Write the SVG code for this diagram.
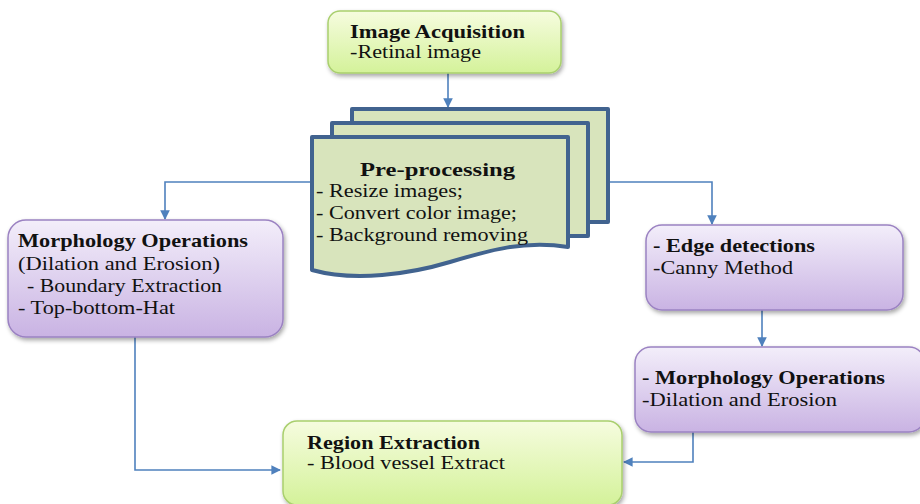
<svg xmlns="http://www.w3.org/2000/svg" width="920" height="504" viewBox="0 0 920 504">
<defs>
<linearGradient id="gGreen" x1="0" y1="0" x2="0" y2="1">
<stop offset="0" stop-color="#f6fcdf"/>
<stop offset="1" stop-color="#d4f29a"/>
</linearGradient>
<linearGradient id="gPurple" x1="0" y1="0" x2="0" y2="1">
<stop offset="0" stop-color="#f3eefa"/>
<stop offset="1" stop-color="#c9b3e3"/>
</linearGradient>
<filter id="sh" x="-10%" y="-10%" width="120%" height="130%">
<feDropShadow dx="1.5" dy="2.5" stdDeviation="2" flood-color="#000" flood-opacity="0.35"/>
</filter>
<marker id="arr" viewBox="0 0 10 10" refX="9" refY="5" markerWidth="6" markerHeight="6" orient="auto" markerUnits="strokeWidth">
<path d="M0,0 L10,5 L0,10 z" fill="#4f81bd"/>
</marker>
</defs>
<style>
.g{fill:url(#gGreen);stroke:#a9cf6e;stroke-width:1.5}
.p{fill:url(#gPurple);stroke:#9b82c2;stroke-width:1.5}
.doc{fill:#d8e4bc;stroke:#41638f;stroke-width:4;stroke-linejoin:round}
.c{fill:none;stroke:#4f81bd;stroke-width:1.6}
text{font-family:"Liberation Serif","Times New Roman",serif;font-size:19.5px;fill:#111}
.b{font-weight:bold}
</style>
<g id="connectors">
<path class="c" d="M448,73 V107" marker-end="url(#arr)"/>
<path class="c" d="M312,182 H165 V219" marker-end="url(#arr)"/>
<path class="c" d="M608,182 H712 V224" marker-end="url(#arr)"/>
<path class="c" d="M762,310 V346" marker-end="url(#arr)"/>
<path class="c" d="M135,337 V470 H280" marker-end="url(#arr)"/>
<path class="c" d="M693,432 V462 H624" marker-end="url(#arr)"/>
</g>
<g id="image-acquisition">
<rect class="g" x="328" y="11" width="233" height="62" rx="12" filter="url(#sh)"/>
<text x="350" y="38" class="b" textLength="175" lengthAdjust="spacingAndGlyphs">Image Acquisition</text>
<text x="350" y="58" textLength="131" lengthAdjust="spacingAndGlyphs">-Retinal  image</text>
</g>
<g id="pre-processing">
<rect class="doc" x="352" y="109" width="256" height="113"/>
<rect class="doc" x="332" y="123" width="256" height="113"/>
<path class="doc" d="M312,137 H568 V247 C525,240 490,250 450,262 C410,274 355,282 312,270 Z"/>
<text x="360" y="176" class="b" textLength="155" lengthAdjust="spacingAndGlyphs">Pre-processing</text>
<text x="316" y="197" textLength="147" lengthAdjust="spacingAndGlyphs">- Resize images;</text>
<text x="316" y="219" textLength="201" lengthAdjust="spacingAndGlyphs">- Convert color image;</text>
<text x="316" y="241" textLength="212" lengthAdjust="spacingAndGlyphs">- Background removing</text>
</g>
<g id="morphology-left">
<rect class="p" x="8" y="220" width="275" height="117" rx="18" filter="url(#sh)"/>
<text x="18" y="247" class="b" textLength="230" lengthAdjust="spacingAndGlyphs">Morphology Operations</text>
<text x="18" y="270" textLength="202" lengthAdjust="spacingAndGlyphs">(Dilation and Erosion)</text>
<text x="27" y="292" textLength="195" lengthAdjust="spacingAndGlyphs">- Boundary Extraction</text>
<text x="18" y="314" textLength="157" lengthAdjust="spacingAndGlyphs">- Top-bottom-Hat</text>
</g>
<g id="edge-detection">
<rect class="p" x="646" y="225" width="257" height="85" rx="16" filter="url(#sh)"/>
<text x="653" y="252" class="b" textLength="162" lengthAdjust="spacingAndGlyphs">- Edge detections</text>
<text x="653" y="274" textLength="140" lengthAdjust="spacingAndGlyphs">-Canny Method</text>
</g>
<g id="morphology-right">
<rect class="p" x="635" y="347" width="290" height="85" rx="16" filter="url(#sh)"/>
<text x="642" y="384" class="b" textLength="243" lengthAdjust="spacingAndGlyphs">- Morphology Operations</text>
<text x="642" y="406" textLength="195" lengthAdjust="spacingAndGlyphs">-Dilation and Erosion</text>
</g>
<g id="region-extraction">
<rect class="g" x="283" y="421" width="339" height="84" rx="14" filter="url(#sh)"/>
<text x="307" y="449" class="b" textLength="173" lengthAdjust="spacingAndGlyphs">Region Extraction</text>
<text x="307" y="469" textLength="198" lengthAdjust="spacingAndGlyphs">- Blood vessel Extract</text>
</g>
</svg>
